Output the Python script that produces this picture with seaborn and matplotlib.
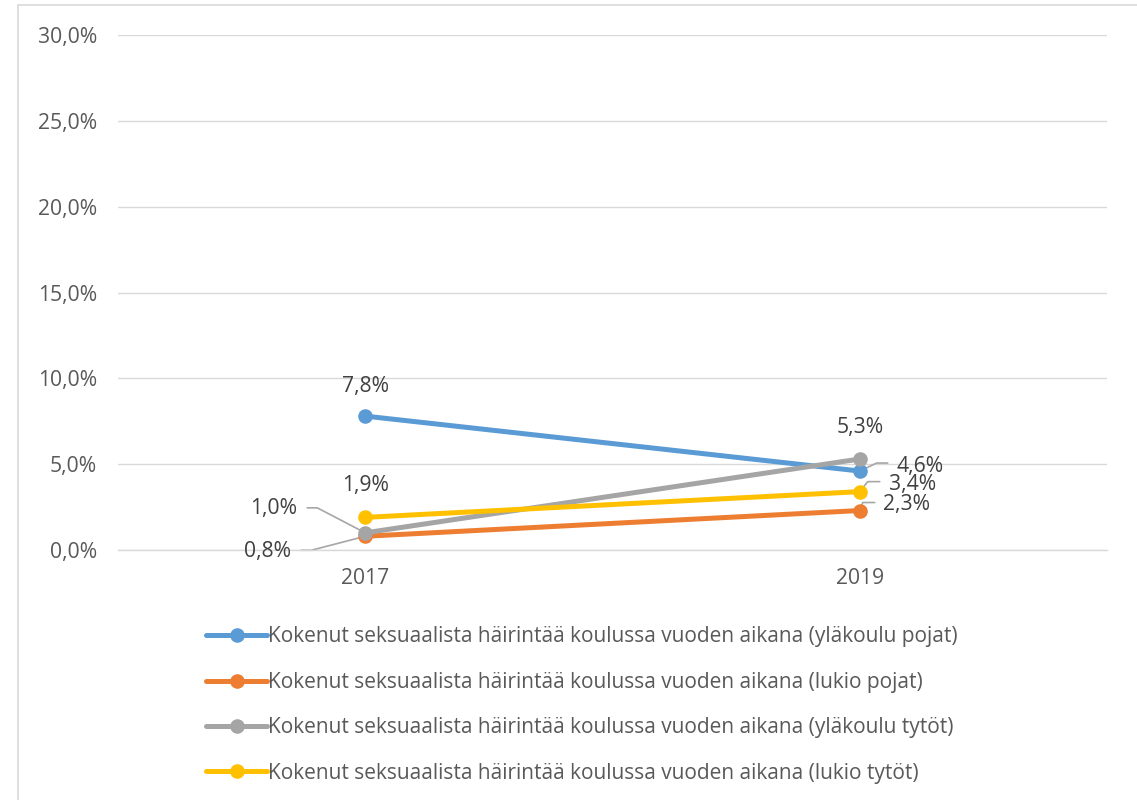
import pandas as pd
import matplotlib.pyplot as plt
import seaborn as sns
from matplotlib.patches import Rectangle

# Data
years = ["2017", "2019"]
series = [
    "Kokenut seksuaalista häirintää koulussa vuoden aikana (yläkoulu pojat)",
    "Kokenut seksuaalista häirintää koulussa vuoden aikana (lukio pojat)",
    "Kokenut seksuaalista häirintää koulussa vuoden aikana (yläkoulu tytöt)",
    "Kokenut seksuaalista häirintää koulussa vuoden aikana (lukio tytöt)",
]
ylakoulu_pojat = [7.8, 4.6]
lukio_pojat = [0.8, 2.3]
ylakoulu_tytot = [1.0, 5.3]
lukio_tytot = [1.9, 3.4]
colors = ["#5B9BD5", "#ED7D31", "#A5A5A5", "#FFC000"]

values = [ylakoulu_pojat, lukio_pojat, ylakoulu_tytot, lukio_tytot]
rows = []
for name, vals in zip(series, values):
    for yr, v in zip(years, vals):
        rows.append({"year": yr, "value": v, "series": name})
df = pd.DataFrame(rows)

sns.set_style("white")
plt.rcParams["font.family"] = ["Open Sans", "DejaVu Sans"]
FS = 15.2

fig = plt.figure(figsize=(11.37, 8), dpi=100)
ax = fig.add_axes([118 / 1137, 1 - 550 / 800, (1107 - 118) / 1137, (550 - 35) / 800])

# chart frame
fig.patches.append(Rectangle((18 / 1137, -0.2), 1.2, 1 + 0.2 - 5 / 800,
                             transform=fig.transFigure, fill=False,
                             edgecolor="#d9d9d9", lw=1.2, zorder=0))

sns.lineplot(
    data=df, x="year", y="value", hue="series", palette=colors,
    marker="o", markersize=10.5, markeredgewidth=0, linewidth=3.6,
    sort=False, ax=ax
)

ax.set_xlim(-0.5, 1.5)
ax.set_ylim(0, 30)
ax.set_yticks([0, 5, 10, 15, 20, 25, 30])
ax.set_yticklabels([f"{t:.1f}%".replace(".", ",") for t in [0, 5, 10, 15, 20, 25, 30]])
ax.yaxis.grid(True, color="#d9d9d9", lw=1)
ax.set_axisbelow(True)
for s in ax.spines.values():
    s.set_visible(False)
ax.spines["bottom"].set_visible(True)
ax.spines["bottom"].set_color("#d9d9d9")
ax.spines["bottom"].set_linewidth(1)
ax.tick_params(axis="both", length=0, labelsize=FS, colors="#595959")
ax.tick_params(axis="y", pad=15)
ax.tick_params(axis="x", pad=13)
ax.set_xlabel("")
ax.set_ylabel("")

handles, labels = ax.get_legend_handles_labels()
ax.get_legend().remove()

# Data labels: (series index, year index, label offset px, leader elbow px, leader end px, ha)
label_specs = [
    (0, 0, (0, 30), None, None, "center"),
    (3, 0, (0, 32), None, None, "center"),
    (2, 0, (-68, 24), (-48, 25), (-58, 25), "right"),
    (1, 0, (-74, -15), (-54, -14), (-64, -14), "right"),
    (2, 1, (0, 32), None, None, "center"),
    (0, 1, (37, 5), (17, 8), (28, 8), "left"),
    (3, 1, (29, 7), (8, 10), (20, 10), "left"),
    (1, 1, (23, 6), (3, 8), (15, 8), "left"),
]

fig.canvas.draw()
for si, yi, off, elbow, end, ha in label_specs:
    v = values[si][yi]
    px, py = ax.transData.transform((yi, v))
    if elbow is not None:
        ax.plot([px, px + elbow[0], px + end[0]],
                [py + 0, py + elbow[1], py + end[1]],
                color="#a6a6a6", lw=1.2, transform=None, zorder=1,
                clip_on=False)
    ax.annotate(f"{v:.1f}%".replace(".", ","), xy=(yi, v),
                xytext=(off[0], off[1]), textcoords="offset pixels",
                ha=ha, va="center", fontsize=FS, color="#404040")

fig.legend(handles, labels, loc="upper left",
           bbox_to_anchor=(196 / 1137, 1 - 616 / 800), frameon=False,
           fontsize=15.0, handlelength=2.9, handletextpad=0.08,
           labelspacing=1.17, borderpad=0, labelcolor="#595959")

fig.savefig("out.png", dpi=100)
